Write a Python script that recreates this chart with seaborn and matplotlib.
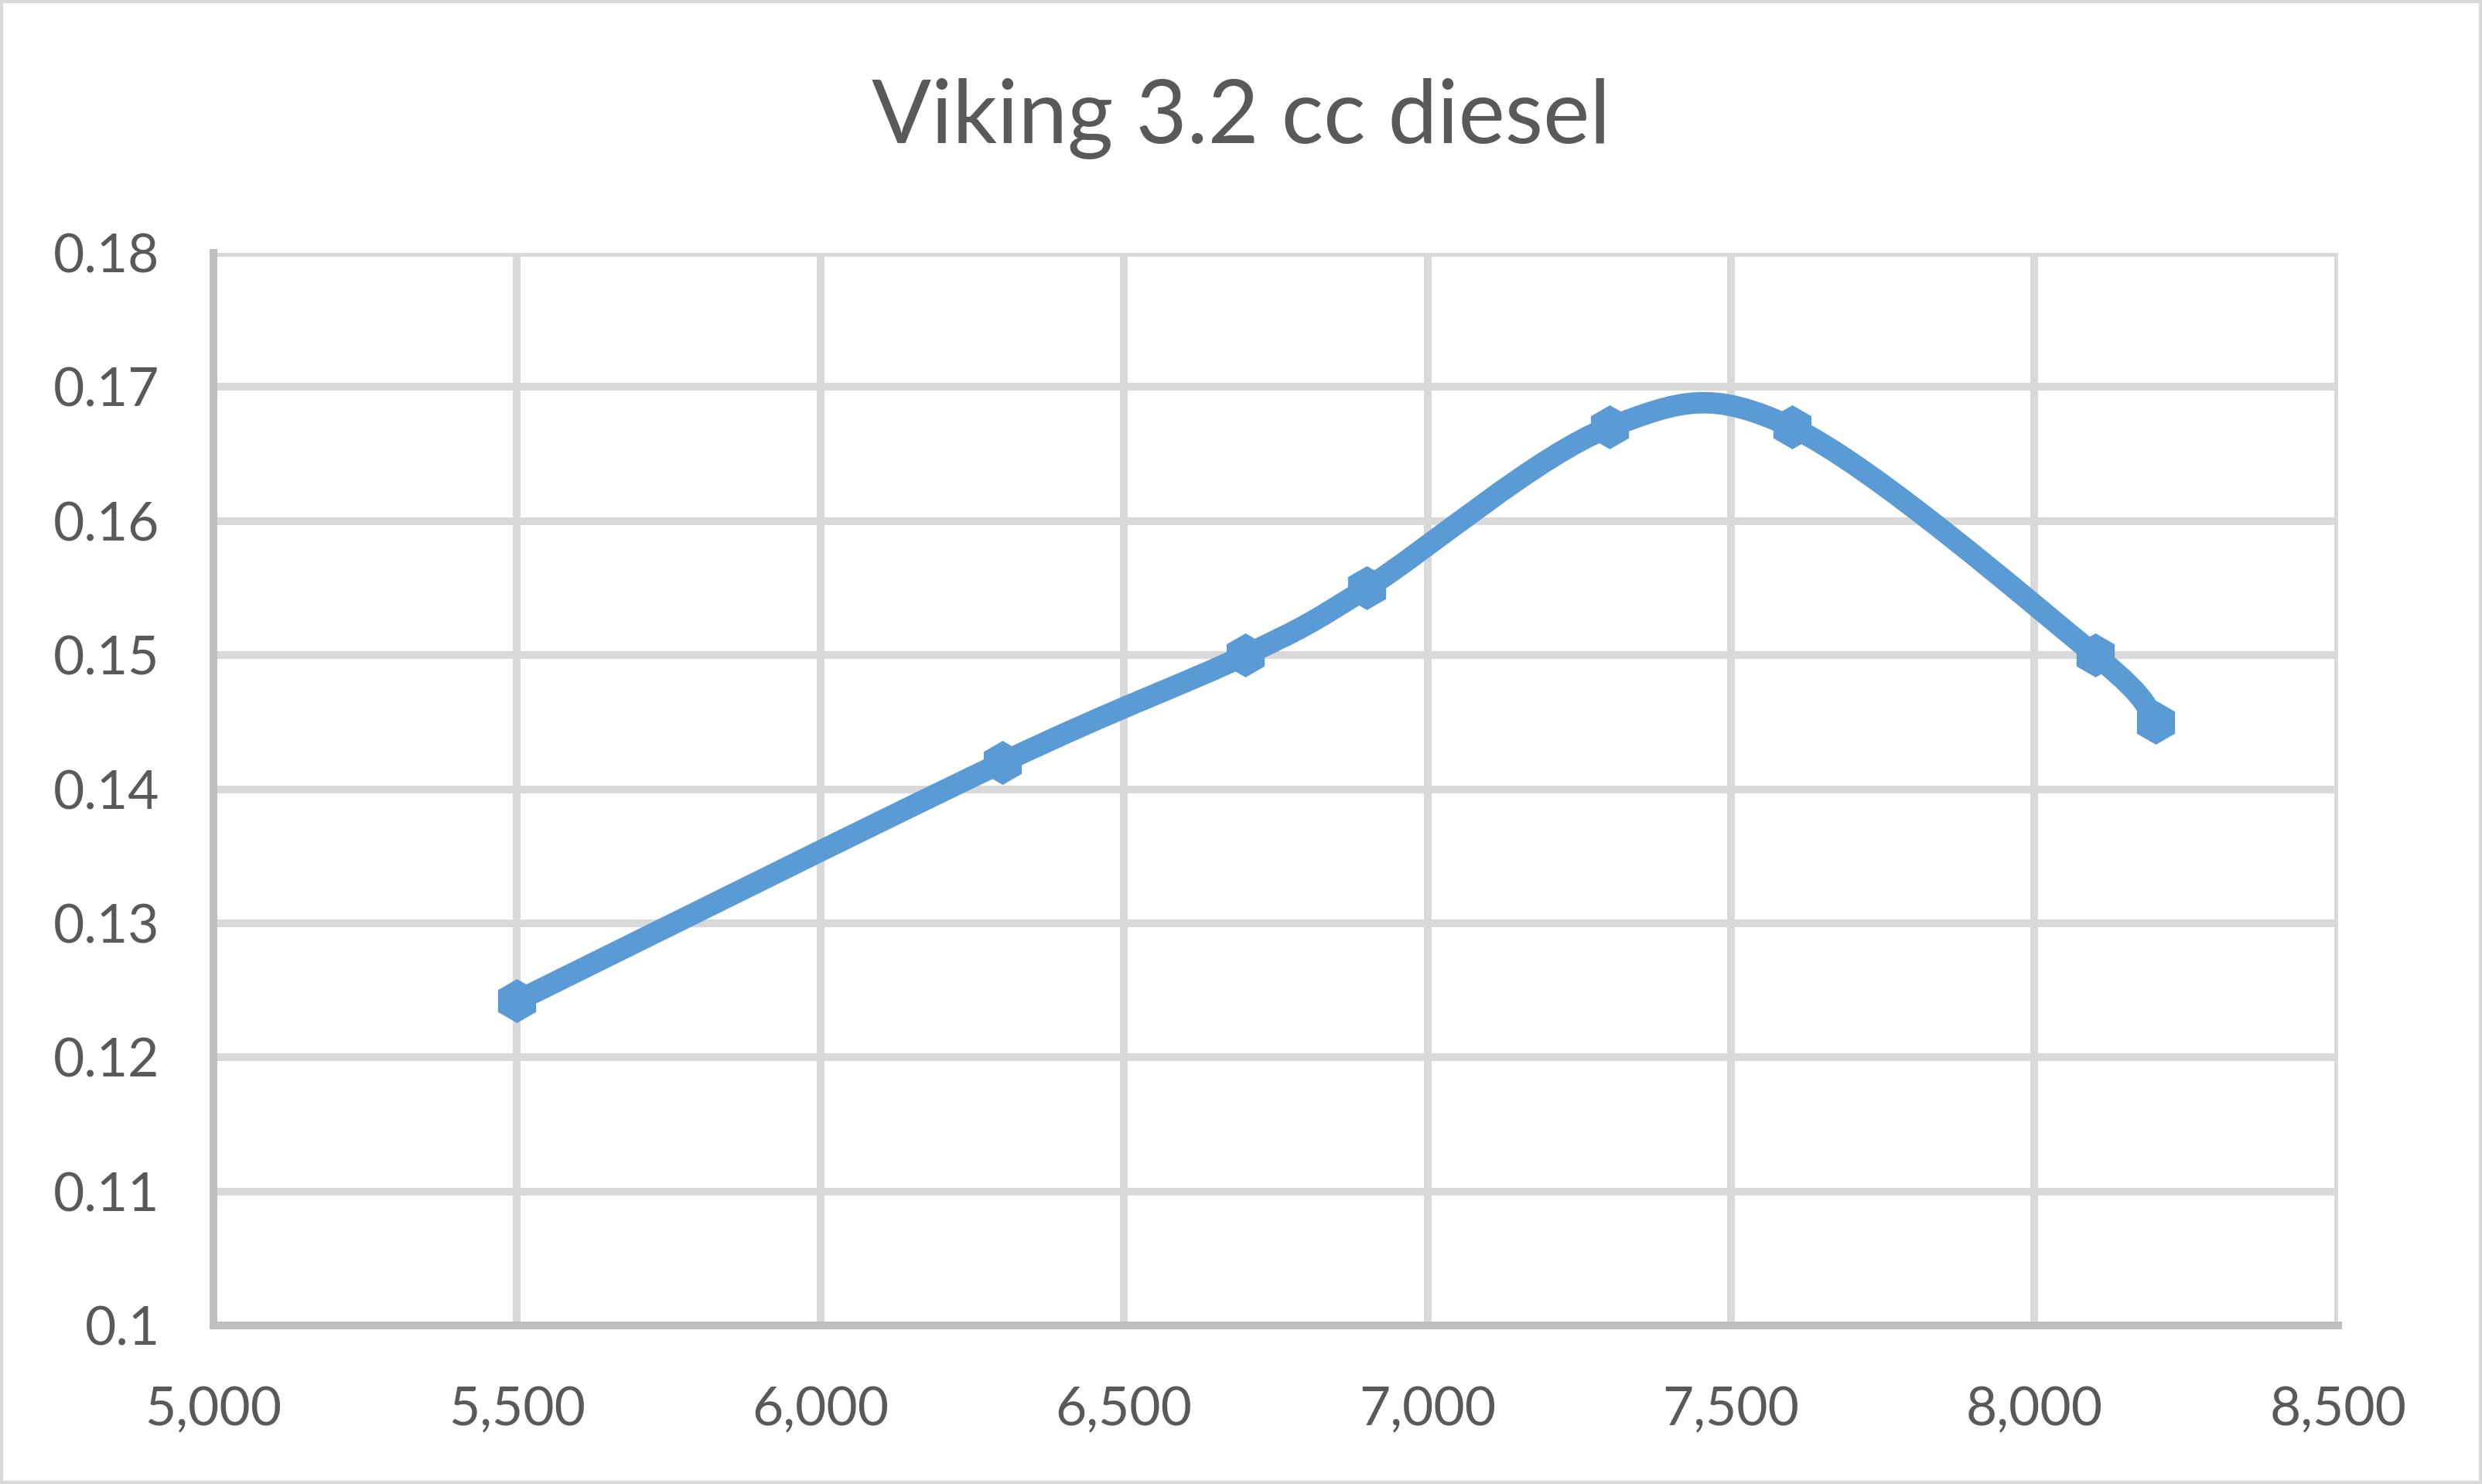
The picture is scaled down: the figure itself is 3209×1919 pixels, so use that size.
import numpy as np
import pandas as pd
import matplotlib.pyplot as plt
import seaborn as sns
import matplotlib.ticker as ticker
from matplotlib.path import Path
from matplotlib.patches import PathPatch, Rectangle

# data
rpm = [5500, 6300, 6700, 6900, 7300, 7600, 8100, 8200]
power = [0.1242, 0.142, 0.150, 0.155, 0.167, 0.167, 0.150, 0.145]
title = "Viking 3.2 cc diesel"

LINE_COL = "#5B9BD5"
TEXT_COL = "#595959"
GRID_COL = "#D9D9D9"
AXIS_COL = "#BFBFBF"


def smooth_path(xs, ys):
    # excel-like smoothed line: cubic bezier through the points
    pts = np.column_stack([xs, ys]).astype(float)
    n = len(pts)
    verts = [pts[0]]
    codes = [Path.MOVETO]
    for i in range(n - 1):
        p_prev = pts[max(i - 1, 0)]
        p0 = pts[i]
        p1 = pts[i + 1]
        p_next = pts[min(i + 2, n - 1)]
        c1 = p0 + (p1 - p_prev) / 6.0
        c2 = p1 - (p_next - p0) / 6.0
        verts += [c1, c2, p1]
        codes += [Path.CURVE4] * 3
    return Path(verts, codes)


def main():
    df = pd.DataFrame({"rpm": rpm, "power": power})

    sns.set_style("whitegrid")
    plt.rcParams["font.family"] = ["Lato", "DejaVu Sans"]

    fig = plt.figure(figsize=(16.045, 9.595), dpi=200)
    ax = fig.add_axes([0.086, 0.1068, 0.856, 0.7228])

    patch = PathPatch(smooth_path(df["rpm"], df["power"]), facecolor="none",
                      edgecolor=LINE_COL, lw=10, capstyle="round", joinstyle="round", zorder=3)
    ax.add_patch(patch)
    sns.scatterplot(data=df, x="rpm", y="power", ax=ax, color=LINE_COL, marker="h",
                    s=420, linewidth=0, zorder=4, legend=False)

    ax.set_xlim(5000, 8500)
    ax.set_ylim(0.1, 0.18)
    ax.xaxis.set_major_locator(ticker.MultipleLocator(500))
    ax.yaxis.set_major_locator(ticker.MultipleLocator(0.01))
    ax.xaxis.set_major_formatter(ticker.FuncFormatter(lambda v, p: f"{v:,.0f}"))
    ax.yaxis.set_major_formatter(ticker.FuncFormatter(lambda v, p: f"{v:.2f}".rstrip("0")))

    ax.grid(True, color=GRID_COL, lw=3.6)
    ax.set_axisbelow(True)
    for s in ["top", "right"]:
        ax.spines[s].set_visible(False)
    for s in ["left", "bottom"]:
        ax.spines[s].set_color(AXIS_COL)
        ax.spines[s].set_linewidth(3.6)
        ax.spines[s].set_zorder(2)

    ax.tick_params(axis="x", length=0, pad=28, labelsize=25, labelcolor=TEXT_COL)
    ax.tick_params(axis="y", length=0, pad=25, labelsize=25, labelcolor=TEXT_COL)
    ax.set_xlabel("")
    ax.set_ylabel("")

    fig.text(0.5, 0.92, title, ha="center", va="center", fontsize=41, color=TEXT_COL)

    fig.patches.append(Rectangle((0, 0), 1, 1, transform=fig.transFigure, fill=False,
                                 edgecolor=GRID_COL, lw=3))

    fig.savefig("out.png", dpi=200)


if __name__ == "__main__":
    main()
